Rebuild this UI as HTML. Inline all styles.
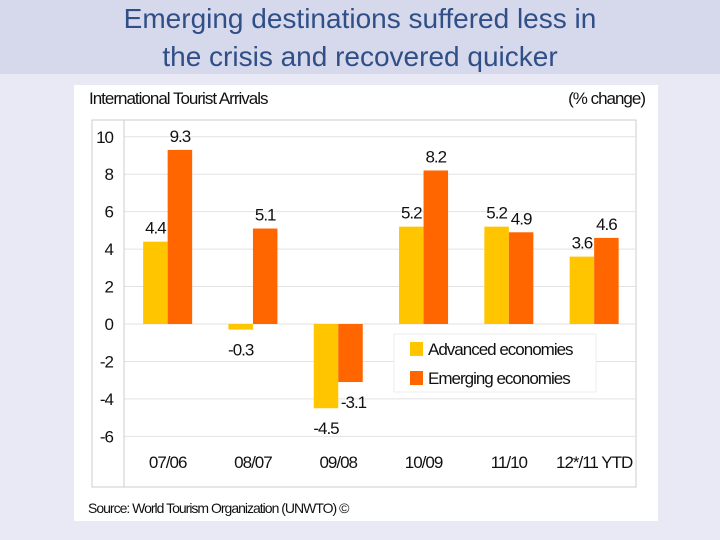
<!DOCTYPE html>
<html><head><meta charset="utf-8"><style>
body{margin:0;width:720px;height:540px;background:#e8e9f5;font-family:"Liberation Sans",sans-serif;overflow:hidden;position:relative}
#title{position:absolute;left:0;top:0;width:720px;height:74px;background:#d6d8ec;color:#2f4f86;font-size:28px;text-align:center;line-height:38px}
#panel{position:absolute;left:74px;top:85px;width:584px;height:436px;background:#fff}
svg text{font-family:"Liberation Sans",sans-serif;letter-spacing:-1px}
</style></head><body>
<div id="title">Emerging destinations suffered less in<br>the crisis and recovered quicker</div>
<div id="panel"></div>
<svg id="chart" width="720" height="540" style="position:absolute;left:0;top:0">
<text x="89" y="104" font-size="17" fill="#111">International Tourist Arrivals</text>
<text x="645" y="104" font-size="17" fill="#111" text-anchor="end">(% change)</text>
<rect x="92" y="120" width="544" height="367" fill="none" stroke="#ccc"/>
<g id="g"></g>
<text x="88" y="513" font-size="14" fill="#111">Source: World Tourism Organization (UNWTO) ©</text>
</svg>
<script>
const categories=["07/06","08/07","09/08","10/09","11/10","12*/11 YTD"];
const advanced=[4.4,-0.3,-4.5,5.2,5.2,3.6];
const emerging=[9.3,5.1,-3.1,8.2,4.9,4.6];
const yTicks=[10,8,6,4,2,0,-2,-4,-6];
const g=document.getElementById('g');
const NS="http://www.w3.org/2000/svg";
const y=v=>324-v*18.72;
const x0=125,gw=85.3,bw=24.5;
function mk(t,a){const e=document.createElementNS(NS,t);for(const k in a)e.setAttribute(k,a[k]);g.appendChild(e);return e;}
yTicks.forEach(t=>{
 const l=mk('line',{x1:124,x2:636,y1:y(t),y2:y(t),stroke:'#e2e2e2'});
 
 
 const tx=mk('text',{x:113,y:y(t)+6,'font-size':17,'text-anchor':'end',fill:'#111'});tx.textContent=t;
 
 
});
mk('line',{x1:124,x2:124,y1:120,y2:487,stroke:'#ccc'});
categories.forEach((c,i)=>{
 const cx=x0+gw*(i+0.5);
 const tx=mk('text',{x:cx,y:468,'font-size':17,'text-anchor':'middle',fill:'#111'});tx.textContent=c;
 
 
 [[advanced[i],'#ffc600',cx-bw,'bar-advanced'],[emerging[i],'#ff6600',cx,'bar-emerging']].forEach(([v,col,bx,nm])=>{
  const r=mk('rect',{x:bx,y:Math.min(y(v),y(0)),width:bw,height:Math.abs(y(v)-y(0)),fill:col});
  
  
  const ly=v>=0?y(v)-8:(nm==='bar-advanced'?y(v)+26:y(v)+26);
  const lt=mk('text',{x:bx+bw/2+(v<0&&nm==='bar-emerging'?3:0),y:ly,'font-size':17,'text-anchor':'middle',fill:'#111'});lt.textContent=v;
  
  
 });
});
const lg=mk('rect',{x:394,y:334,width:202,height:58,fill:'#fff',stroke:'#eee'});


[['Advanced economies','#ffc600',349],['Emerging economies','#ff6600',378]].forEach(([n,c,yy])=>{
 const s=mk('rect',{x:410,y:yy-7,width:13,height:14,fill:c});
 
 
 const t=mk('text',{x:428,y:yy+6,'font-size':17,fill:'#111'});t.textContent=n;
 
 
});
</script>
</body></html>
